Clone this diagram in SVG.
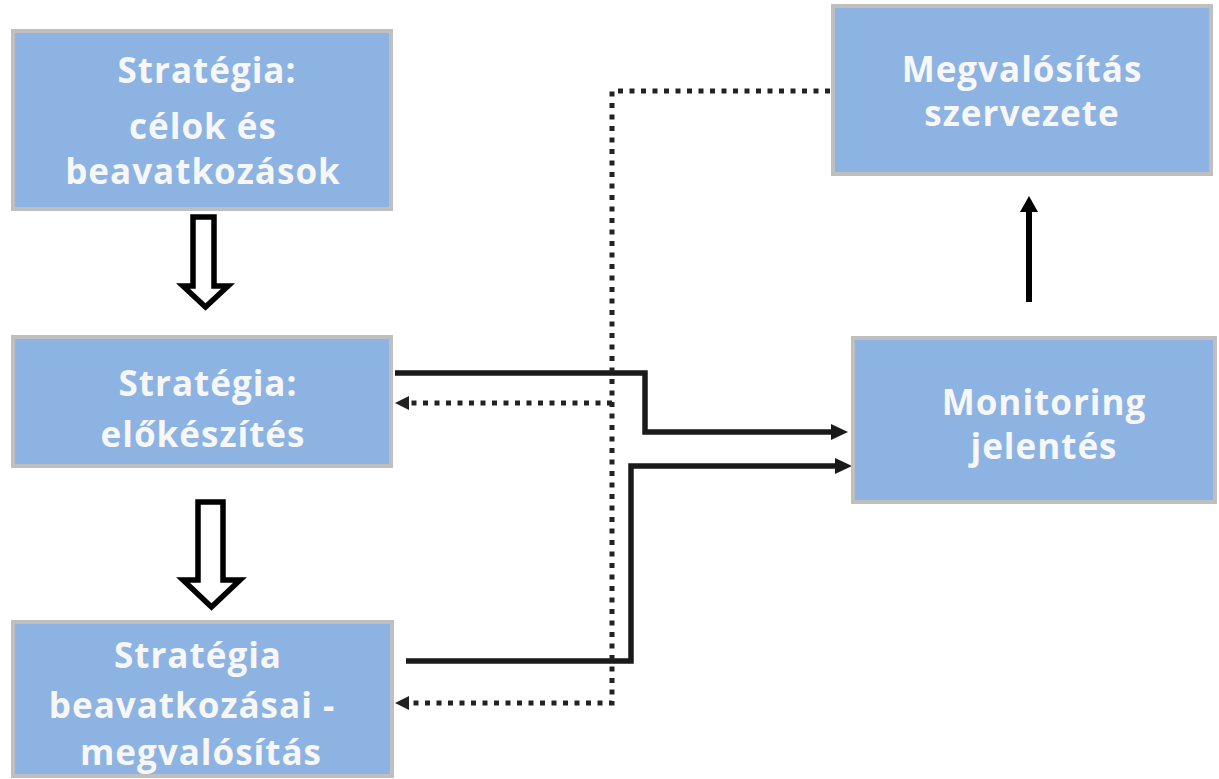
<svg xmlns="http://www.w3.org/2000/svg" width="1219" height="779" viewBox="0 0 1219 779">
<style>
.box{fill:#8db3e2;stroke:#bfbfbf;stroke-width:4}
.lbl{font-family:"Open Sans","Liberation Sans",sans-serif;font-weight:bold;font-size:35px;letter-spacing:1px;fill:#f7f7f7;text-anchor:middle}
.solid{fill:none;stroke:#1a1a1a;stroke-width:5.5}
.dot{fill:none;stroke:#222;stroke-width:5;stroke-dasharray:5 6.5}
.hollow{fill:#fff;stroke:#000;stroke-width:5.5;stroke-linejoin:miter}
</style>
<defs>
<marker id="ah" markerUnits="userSpaceOnUse" markerWidth="18" markerHeight="16" refX="7" refY="8" orient="auto">
<path d="M0,0 L17,8 L0,16 z" fill="#1a1a1a"/>
</marker>
<marker id="ahd" markerUnits="userSpaceOnUse" markerWidth="15" markerHeight="14" refX="5" refY="7" orient="auto">
<path d="M0,0 L14,7 L0,14 z" fill="#222"/>
</marker>
<marker id="ahu" markerUnits="userSpaceOnUse" markerWidth="20" markerHeight="18" refX="6" refY="9" orient="auto">
<path d="M0,0 L16,9 L0,18 z" fill="#000"/>
</marker>
</defs>
<rect width="1219" height="779" fill="#fff"/>
<g id="connectors">
<path class="hollow" d="M193,217 H214 V286 H228 L205.5,307 L183,286 H193 Z"/>
<path class="hollow" d="M198,502 H223 V580 H240 L211.5,607 L183,580 H198 Z"/>
<path class="solid" d="M395,373 H645 V432 H838" marker-end="url(#ah)"/>
<path class="solid" d="M406,661 H631 V466 H842" marker-end="url(#ah)"/>
<path class="dot" d="M830,91 H612 V703 H404" marker-end="url(#ahd)"/>
<path class="dot" d="M612,403 H404" marker-end="url(#ahd)"/>
<path d="M1029,302 V206" fill="none" stroke="#000" stroke-width="6" marker-end="url(#ahu)"/>
</g>
<g id="node-strategia-celok">
<rect class="box" x="13" y="31" width="378" height="178"/>
<text class="lbl" x="207" y="83">Stratégia:</text>
<text class="lbl" x="203" y="139">célok és</text>
<text class="lbl" x="203" y="184">beavatkozások</text>
</g>
<g id="node-strategia-elokeszites">
<rect class="box" x="13" y="337" width="378" height="129"/>
<text class="lbl" x="208" y="396">Stratégia:</text>
<text class="lbl" x="203" y="447">előkészítés</text>
</g>
<g id="node-strategia-megvalositas">
<rect class="box" x="13" y="622" width="379" height="154"/>
<text class="lbl" x="198" y="668">Stratégia</text>
<text class="lbl" x="192" y="718">beavatkozásai -</text>
<text class="lbl" x="201" y="765">megvalósítás</text>
</g>
<g id="node-megvalositas-szervezete">
<rect class="box" x="833" y="6" width="378" height="168"/>
<text class="lbl" x="1022" y="82">Megvalósítás</text>
<text class="lbl" x="1022" y="126">szervezete</text>
</g>
<g id="node-monitoring">
<rect class="box" x="853" y="338" width="362" height="164"/>
<text class="lbl" x="1044" y="415">Monitoring</text>
<text class="lbl" x="1044" y="459">jelentés</text>
</g>
</svg>
